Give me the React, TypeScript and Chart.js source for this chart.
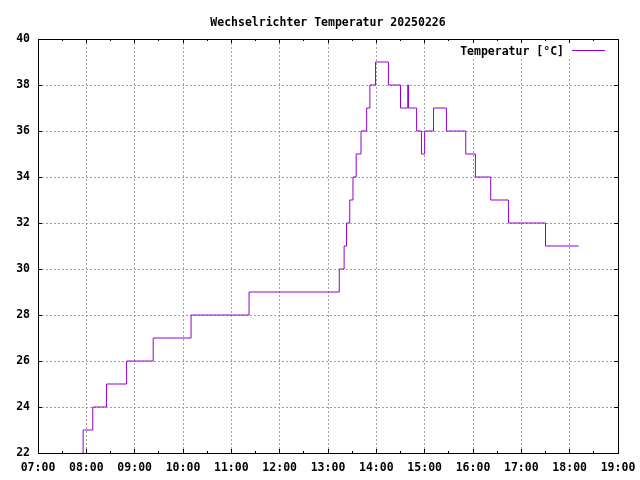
import React, { useEffect, useRef } from "react";
import { Chart, registerables } from "chart.js";

Chart.register(...registerables);

const TITLE = "Wechselrichter Temperatur 20250226";
const SERIES_LABEL = "Temperatur [°C]";

// change points: the temperature holds from this time until the next entry
const times = [
  "07:55", "07:56", "08:08", "08:25", "08:50", "09:23", "10:10", "11:22",
  "13:14", "13:20", "13:23", "13:27", "13:31", "13:35", "13:41", "13:48",
  "13:52", "13:59", "14:15", "14:30", "14:39", "14:40", "14:50", "14:56",
  "15:00", "15:11", "15:27", "15:51", "16:03", "16:22", "16:44", "17:30",
  "18:11",
];
const temps = [
  22, 23, 24, 25, 26, 27, 28, 29,
  30, 31, 32, 33, 34, 35, 36, 37,
  38, 39, 38, 37, 38, 37, 36, 35,
  36, 37, 36, 35, 34, 33, 32, 31,
  31,
];

const xTickLabels = [
  "07:00", "08:00", "09:00", "10:00", "11:00", "12:00", "13:00",
  "14:00", "15:00", "16:00", "17:00", "18:00", "19:00",
];
const Y_MIN = 22;
const Y_MAX = 40;
const Y_STEP = 2;

const LINE_COLOR = "#9400d3";
const GRID_COLOR = "#a0a0a0";
const FONT_FAMILY = "'DejaVu Sans Mono', 'Liberation Mono', monospace";

const toMin = (s: string) => {
  const [h, m] = s.split(":").map(Number);
  return h * 60 + m;
};
const X_MIN = toMin(xTickLabels[0]);
const X_MAX = toMin(xTickLabels[xTickLabels.length - 1]);

const gnuplotDecor = {
  id: "gnuplotDecor",
  beforeDatasetsDraw(chart: any) {
    const { ctx, chartArea: a } = chart;
    // key area is opaque over the grid
    ctx.save();
    ctx.fillStyle = "#ffffff";
    ctx.fillRect(455, a.top + 1, a.right - 455, 19);
    ctx.restore();
  },
  afterDraw(chart: any) {
    const { ctx, chartArea: a, scales } = chart;
    const xs = scales.x;
    const ys = scales.y;
    ctx.save();
    ctx.strokeStyle = "#000";
    ctx.lineWidth = 1;
    ctx.setLineDash([]);
    ctx.strokeRect(a.left + 0.5, a.top + 0.5, a.right - a.left, a.bottom - a.top);

    ctx.beginPath();
    for (let v = X_MIN + 30; v < X_MAX; v += 30) {
      const px = Math.round(xs.getPixelForValue(v) - 0.5) + 0.5;
      const len = v % 60 === 0 ? 4 : 2;
      ctx.moveTo(px, a.bottom);
      ctx.lineTo(px, a.bottom - len);
      ctx.moveTo(px, a.top);
      ctx.lineTo(px, a.top + len);
    }
    for (let v = Y_MIN + Y_STEP; v < Y_MAX; v += Y_STEP) {
      const py = Math.round(ys.getPixelForValue(v) - 0.5) + 0.5;
      ctx.moveTo(a.left, py);
      ctx.lineTo(a.left + 4, py);
      ctx.moveTo(a.right, py);
      ctx.lineTo(a.right - 4, py);
    }
    ctx.stroke();

    // key
    ctx.fillStyle = "#000";
    ctx.font = `bold 11.5px ${FONT_FAMILY}`;
    ctx.textAlign = "right";
    ctx.textBaseline = "alphabetic";
    ctx.fillText(SERIES_LABEL, 564, 55);
    ctx.strokeStyle = LINE_COLOR;
    ctx.beginPath();
    ctx.moveTo(572, 50.5);
    ctx.lineTo(605, 50.5);
    ctx.stroke();

    // title, centred over the plot area
    ctx.fillStyle = "#000";
    ctx.textAlign = "center";
    ctx.fillText(TITLE, (a.left + a.right) / 2, 25.5);
    ctx.restore();
  },
};

export default function App() {
  const canvasRef = useRef<HTMLCanvasElement | null>(null);

  useEffect(() => {
    const canvas = canvasRef.current;
    if (!canvas) return;
    const tickFont = { family: FONT_FAMILY, size: 11.5, weight: "bold" as const };
    const chart = new Chart(canvas, {
      type: "line",
      data: {
        datasets: [
          {
            label: SERIES_LABEL,
            data: times.map((t, i) => ({ x: toMin(t), y: temps[i] })),
            borderColor: LINE_COLOR,
            backgroundColor: LINE_COLOR,
            borderWidth: 1,
            pointRadius: 0,
            stepped: true,
            fill: false,
          },
        ],
      },
      options: {
        responsive: false,
        maintainAspectRatio: false,
        devicePixelRatio: 1,
        animation: false,
        layout: { padding: { top: 39, right: 22, bottom: 0, left: 0 } },
        plugins: {
          legend: { display: false },
          title: { display: false },
          tooltip: { enabled: false },
        },
        scales: {
          x: {
            type: "linear",
            min: X_MIN,
            max: X_MAX,
            afterFit: (s: any) => {
              s.height = 27;
              s.paddingLeft = 0;
              s.paddingRight = 0;
            },
            ticks: {
              stepSize: 60,
              autoSkip: false,
              maxRotation: 0,
              padding: 8,
              color: "#000",
              font: tickFont,
              callback: (v: any) => {
                const idx = Math.round((Number(v) - X_MIN) / 60);
                return xTickLabels[idx] ?? "";
              },
            },
            grid: { color: GRID_COLOR, lineWidth: 1, drawTicks: false },
            border: { display: false, dash: [2, 2] },
          },
          y: {
            type: "linear",
            min: Y_MIN,
            max: Y_MAX,
            afterFit: (s: any) => {
              s.width = 38;
              s.paddingTop = 0;
              s.paddingBottom = 0;
            },
            ticks: {
              stepSize: Y_STEP,
              padding: 8,
              color: "#000",
              font: tickFont,
            },
            grid: { color: GRID_COLOR, lineWidth: 1, drawTicks: false },
            border: { display: false, dash: [2, 2] },
          },
        },
      },
      plugins: [gnuplotDecor],
    });
    return () => chart.destroy();
  }, []);

  return (
    <div style={{ position: "absolute", left: 0, top: 0, width: 640, height: 480, background: "#fff" }}>
      <canvas ref={canvasRef} width={640} height={480} style={{ display: "block" }} />
    </div>
  );
}
